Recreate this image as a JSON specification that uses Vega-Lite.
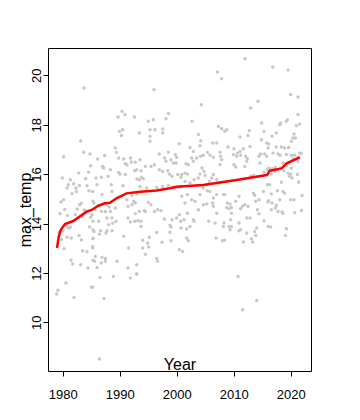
{
  "$schema": "https://vega.github.io/schema/vega-lite/v6.json",
  "width": 263,
  "height": 323,
  "autosize": {"type": "none"},
  "padding": {"left": 48, "top": 48, "right": 49, "bottom": 49},
  "background": "white",
  "config": {
    "view": {"stroke": "black", "strokeWidth": 1},
    "font": "Liberation Sans",
    "axis": {"grid": false, "domain": false, "tickColor": "black", "tickSize": 5, "labelColor": "black", "titleColor": "black", "labelFontSize": 13, "titleFontSize": 16, "titleFontWeight": "normal", "labelFont": "Liberation Sans", "titleFont": "Liberation Sans"}
  },
  "datasets": {
    "pts": [
      {"Year":1983.74,"max_temp":19.49},{"Year":1983.15,"max_temp":17.34},{"Year":1983.68,"max_temp":16.89},{"Year":1984.79,"max_temp":16.81},{"Year":1980.17,"max_temp":16.70},{"Year":1984.91,"max_temp":16.34},{"Year":1982.80,"max_temp":16.04},{"Year":1984.55,"max_temp":16.08},{"Year":1979.93,"max_temp":15.84},{"Year":1981.34,"max_temp":15.77},{"Year":1984.03,"max_temp":15.81},{"Year":1980.99,"max_temp":15.57},{"Year":1981.92,"max_temp":15.61},{"Year":1982.92,"max_temp":15.54},{"Year":1980.75,"max_temp":15.44},{"Year":1982.33,"max_temp":15.44},{"Year":1984.26,"max_temp":15.53},{"Year":1984.61,"max_temp":15.33},{"Year":1981.63,"max_temp":15.21},{"Year":1982.39,"max_temp":15.30},{"Year":1980.17,"max_temp":14.96},{"Year":1979.70,"max_temp":14.87},{"Year":1983.27,"max_temp":14.82},{"Year":1982.98,"max_temp":14.76},{"Year":1985.31,"max_temp":14.90},{"Year":1980.34,"max_temp":14.57},{"Year":1982.57,"max_temp":14.59},{"Year":1983.74,"max_temp":14.55},{"Year":1984.03,"max_temp":14.52},{"Year":1979.53,"max_temp":14.40},{"Year":1980.81,"max_temp":14.32},{"Year":1982.22,"max_temp":14.36},{"Year":1983.50,"max_temp":14.29},{"Year":1984.91,"max_temp":14.25},{"Year":1985.31,"max_temp":14.09},{"Year":1980.64,"max_temp":13.93},{"Year":1981.40,"max_temp":13.86},{"Year":1981.05,"max_temp":13.82},{"Year":1979.35,"max_temp":13.64},{"Year":1980.05,"max_temp":13.71},{"Year":1984.73,"max_temp":13.86},{"Year":1985.31,"max_temp":13.75},{"Year":1979.76,"max_temp":13.35},{"Year":1980.75,"max_temp":13.44},{"Year":1981.51,"max_temp":13.41},{"Year":1982.86,"max_temp":13.52},{"Year":1983.27,"max_temp":13.33},{"Year":1985.31,"max_temp":13.39},{"Year":1980.23,"max_temp":12.98},{"Year":1983.50,"max_temp":12.90},{"Year":1984.26,"max_temp":12.86},{"Year":1985.26,"max_temp":13.01},{"Year":1981.45,"max_temp":12.51},{"Year":1981.75,"max_temp":12.36},{"Year":1983.15,"max_temp":12.33},{"Year":1984.44,"max_temp":12.20},{"Year":1985.31,"max_temp":12.51},{"Year":1980.58,"max_temp":11.59},{"Year":1985.08,"max_temp":11.43},{"Year":1979.17,"max_temp":11.30},{"Year":1978.94,"max_temp":11.15},{"Year":1981.98,"max_temp":11.01},
      {"Year":1990.40,"max_temp":18.54},{"Year":1990.93,"max_temp":18.41},{"Year":1989.70,"max_temp":18.31},{"Year":1992.57,"max_temp":18.31},{"Year":1989.94,"max_temp":17.73},{"Year":1990.52,"max_temp":17.80},{"Year":1990.29,"max_temp":17.56},{"Year":1989.23,"max_temp":17.06},{"Year":1989.41,"max_temp":16.88},{"Year":1986.13,"max_temp":16.61},{"Year":1987.36,"max_temp":16.75},{"Year":1989.82,"max_temp":16.65},{"Year":1990.70,"max_temp":16.61},{"Year":1990.99,"max_temp":16.42},{"Year":1991.92,"max_temp":16.65},{"Year":1992.04,"max_temp":16.49},{"Year":1992.74,"max_temp":16.48},{"Year":1991.28,"max_temp":16.38},{"Year":1987.01,"max_temp":16.31},{"Year":1987.19,"max_temp":16.25},{"Year":1988.36,"max_temp":16.18},{"Year":1992.63,"max_temp":16.14},{"Year":1989.82,"max_temp":16.07},{"Year":1990.05,"max_temp":16.00},{"Year":1985.84,"max_temp":15.84},{"Year":1986.78,"max_temp":15.87},{"Year":1987.95,"max_temp":15.91},{"Year":1990.99,"max_temp":15.98},{"Year":1990.58,"max_temp":15.53},{"Year":1986.02,"max_temp":15.57},{"Year":1988.53,"max_temp":15.57},{"Year":1993.03,"max_temp":15.80},{"Year":1985.26,"max_temp":15.30},{"Year":1988.65,"max_temp":15.30},{"Year":1986.89,"max_temp":15.17},{"Year":1992.16,"max_temp":15.14},{"Year":1991.28,"max_temp":14.96},{"Year":1992.45,"max_temp":14.90},{"Year":1985.49,"max_temp":14.83},{"Year":1986.43,"max_temp":14.72},{"Year":1985.72,"max_temp":14.56},{"Year":1986.78,"max_temp":14.49},{"Year":1987.48,"max_temp":14.49},{"Year":1988.36,"max_temp":14.49},{"Year":1988.18,"max_temp":14.67},{"Year":1987.77,"max_temp":14.76},{"Year":1989.23,"max_temp":14.63},{"Year":1991.46,"max_temp":14.70},{"Year":1992.74,"max_temp":14.83},{"Year":1992.16,"max_temp":14.76},{"Year":1985.14,"max_temp":14.36},{"Year":1987.77,"max_temp":14.22},{"Year":1988.65,"max_temp":14.22},{"Year":1986.31,"max_temp":14.09},{"Year":1989.35,"max_temp":14.09},{"Year":1992.74,"max_temp":14.40},{"Year":1991.46,"max_temp":14.22},{"Year":1991.87,"max_temp":14.06},{"Year":1992.63,"max_temp":14.09},{"Year":1988.06,"max_temp":13.95},{"Year":1988.77,"max_temp":14.01},{"Year":1985.49,"max_temp":13.68},{"Year":1986.66,"max_temp":13.71},{"Year":1987.60,"max_temp":13.62},{"Year":1987.77,"max_temp":13.71},{"Year":1988.65,"max_temp":13.71},{"Year":1986.43,"max_temp":13.57},{"Year":1985.32,"max_temp":13.39},{"Year":1990.70,"max_temp":13.48},{"Year":1985.26,"max_temp":13.07},{"Year":1991.57,"max_temp":13.01},{"Year":1985.72,"max_temp":12.67},{"Year":1986.89,"max_temp":12.63},{"Year":1987.48,"max_temp":12.58},{"Year":1985.61,"max_temp":12.47},{"Year":1986.78,"max_temp":12.40},{"Year":1987.48,"max_temp":12.47},{"Year":1986.02,"max_temp":12.22},{"Year":1989.53,"max_temp":12.47},{"Year":1991.46,"max_temp":12.20},{"Year":1992.98,"max_temp":12.33},{"Year":1986.54,"max_temp":11.82},{"Year":1988.88,"max_temp":11.86},{"Year":1991.87,"max_temp":11.79},{"Year":1992.98,"max_temp":11.96},{"Year":1985.26,"max_temp":11.42},{"Year":1987.25,"max_temp":10.96},{"Year":1986.43,"max_temp":8.52},
      {"Year":1996.02,"max_temp":19.42},{"Year":1998.53,"max_temp":18.45},{"Year":1998.12,"max_temp":18.24},{"Year":1995.90,"max_temp":18.20},{"Year":1995.02,"max_temp":18.14},{"Year":1995.32,"max_temp":17.80},{"Year":1996.19,"max_temp":17.80},{"Year":1997.54,"max_temp":17.83},{"Year":1997.54,"max_temp":17.66},{"Year":1995.32,"max_temp":17.53},{"Year":1995.32,"max_temp":17.33},{"Year":1993.44,"max_temp":17.66},{"Year":2000.46,"max_temp":17.23},{"Year":1996.95,"max_temp":16.81},{"Year":1998.53,"max_temp":16.89},{"Year":1999.76,"max_temp":16.79},{"Year":1999.99,"max_temp":16.68},{"Year":1997.89,"max_temp":16.65},{"Year":1999.00,"max_temp":16.58},{"Year":1998.12,"max_temp":16.52},{"Year":1999.41,"max_temp":16.45},{"Year":1993.56,"max_temp":16.58},{"Year":1994.50,"max_temp":16.31},{"Year":1995.49,"max_temp":16.31},{"Year":1996.08,"max_temp":16.38},{"Year":1996.95,"max_temp":16.18},{"Year":1997.54,"max_temp":16.11},{"Year":1998.42,"max_temp":16.14},{"Year":1998.71,"max_temp":16.00},{"Year":1999.88,"max_temp":16.45},{"Year":1999.18,"max_temp":15.91},{"Year":2000.17,"max_temp":15.98},{"Year":2000.75,"max_temp":15.87},{"Year":1992.98,"max_temp":16.18},{"Year":1993.74,"max_temp":16.14},{"Year":1993.80,"max_temp":15.87},{"Year":1993.44,"max_temp":15.77},{"Year":1994.15,"max_temp":15.81},{"Year":1993.56,"max_temp":15.50},{"Year":1994.73,"max_temp":15.44},{"Year":1996.49,"max_temp":15.46},{"Year":1997.54,"max_temp":15.50},{"Year":1998.53,"max_temp":15.54},{"Year":1999.41,"max_temp":15.46},{"Year":1999.88,"max_temp":15.44},{"Year":2000.46,"max_temp":15.46},{"Year":1992.98,"max_temp":15.19},{"Year":1995.02,"max_temp":14.86},{"Year":1995.49,"max_temp":14.76},{"Year":1996.66,"max_temp":14.56},{"Year":1997.25,"max_temp":14.52},{"Year":1996.08,"max_temp":14.49},{"Year":1994.32,"max_temp":14.53},{"Year":1993.44,"max_temp":14.49},{"Year":1993.21,"max_temp":14.11},{"Year":1993.74,"max_temp":14.09},{"Year":1994.50,"max_temp":14.49},{"Year":1997.83,"max_temp":14.18},{"Year":1999.18,"max_temp":14.15},{"Year":1999.99,"max_temp":14.22},{"Year":2000.46,"max_temp":14.36},{"Year":1998.82,"max_temp":13.93},{"Year":1999.00,"max_temp":13.86},{"Year":1993.74,"max_temp":13.88},{"Year":2000.75,"max_temp":13.82},{"Year":1996.49,"max_temp":13.64},{"Year":1998.82,"max_temp":13.65},{"Year":1994.03,"max_temp":13.32},{"Year":1995.20,"max_temp":13.44},{"Year":1999.00,"max_temp":13.30},{"Year":1994.03,"max_temp":13.01},{"Year":1995.08,"max_temp":13.05},{"Year":1994.91,"max_temp":13.21},{"Year":1997.42,"max_temp":13.24},{"Year":1994.50,"max_temp":12.76},{"Year":1996.49,"max_temp":12.58},{"Year":1996.66,"max_temp":12.47},{"Year":1992.98,"max_temp":11.96},{"Year":2000.46,"max_temp":12.94},
      {"Year":2007.13,"max_temp":20.13},{"Year":2007.89,"max_temp":19.86},{"Year":2004.32,"max_temp":18.81},{"Year":2002.69,"max_temp":18.14},{"Year":2007.31,"max_temp":17.93},{"Year":2007.89,"max_temp":17.84},{"Year":2003.80,"max_temp":17.60},{"Year":2004.21,"max_temp":17.35},{"Year":2004.09,"max_temp":17.15},{"Year":2002.33,"max_temp":17.08},{"Year":2006.31,"max_temp":17.26},{"Year":2007.01,"max_temp":17.26},{"Year":2002.92,"max_temp":16.92},{"Year":2005.38,"max_temp":16.88},{"Year":2005.84,"max_temp":16.76},{"Year":2007.60,"max_temp":16.88},{"Year":2003.50,"max_temp":16.65},{"Year":2004.21,"max_temp":16.72},{"Year":2004.67,"max_temp":16.76},{"Year":2002.63,"max_temp":16.65},{"Year":2002.92,"max_temp":16.52},{"Year":2007.71,"max_temp":16.72},{"Year":2007.89,"max_temp":16.58},{"Year":2006.43,"max_temp":16.68},{"Year":2007.60,"max_temp":16.38},{"Year":2001.63,"max_temp":16.42},{"Year":2002.04,"max_temp":16.38},{"Year":2001.46,"max_temp":16.04},{"Year":2000.87,"max_temp":15.98},{"Year":2001.87,"max_temp":16.00},{"Year":2004.44,"max_temp":16.25},{"Year":2004.79,"max_temp":16.11},{"Year":2004.97,"max_temp":15.94},{"Year":2004.09,"max_temp":16.00},{"Year":2003.80,"max_temp":15.84},{"Year":2003.04,"max_temp":15.77},{"Year":2006.14,"max_temp":15.84},{"Year":2006.43,"max_temp":15.98},{"Year":2007.01,"max_temp":15.77},{"Year":2007.48,"max_temp":15.64},{"Year":2005.73,"max_temp":15.70},{"Year":2001.46,"max_temp":15.70},{"Year":2000.87,"max_temp":15.50},{"Year":2002.33,"max_temp":15.64},{"Year":2003.62,"max_temp":15.54},{"Year":2004.38,"max_temp":15.54},{"Year":2005.26,"max_temp":15.57},{"Year":2005.38,"max_temp":15.33},{"Year":2004.67,"max_temp":15.44},{"Year":2005.84,"max_temp":15.30},{"Year":2007.01,"max_temp":15.17},{"Year":2008.18,"max_temp":15.17},{"Year":2004.09,"max_temp":15.17},{"Year":2001.87,"max_temp":15.17},{"Year":2000.87,"max_temp":15.10},{"Year":2006.43,"max_temp":15.03},{"Year":2002.63,"max_temp":14.96},{"Year":2003.21,"max_temp":14.90},{"Year":2004.67,"max_temp":14.76},{"Year":2005.26,"max_temp":14.79},{"Year":2001.46,"max_temp":14.83},{"Year":2006.31,"max_temp":14.83},{"Year":2006.43,"max_temp":14.70},{"Year":2001.87,"max_temp":14.42},{"Year":2003.80,"max_temp":14.56},{"Year":2007.01,"max_temp":14.42},{"Year":2001.28,"max_temp":14.15},{"Year":2002.92,"max_temp":14.15},{"Year":2003.04,"max_temp":14.09},{"Year":2000.70,"max_temp":14.09},{"Year":2002.33,"max_temp":13.88},{"Year":2001.75,"max_temp":13.78},{"Year":2005.61,"max_temp":14.09},{"Year":2006.72,"max_temp":14.02},{"Year":2008.18,"max_temp":13.88},{"Year":2001.75,"max_temp":13.41},{"Year":2002.04,"max_temp":13.30},{"Year":2006.90,"max_temp":13.41},{"Year":2008.01,"max_temp":13.30},{"Year":2001.05,"max_temp":12.87},
      {"Year":2011.98,"max_temp":20.67},{"Year":2014.26,"max_temp":18.95},{"Year":2012.98,"max_temp":18.68},{"Year":2014.91,"max_temp":18.07},{"Year":2015.32,"max_temp":17.73},{"Year":2008.77,"max_temp":17.80},{"Year":2008.42,"max_temp":17.73},{"Year":2011.11,"max_temp":17.50},{"Year":2012.51,"max_temp":17.56},{"Year":2012.74,"max_temp":17.76},{"Year":2014.85,"max_temp":17.39},{"Year":2015.79,"max_temp":17.26},{"Year":2009.00,"max_temp":17.10},{"Year":2010.05,"max_temp":17.03},{"Year":2011.69,"max_temp":17.03},{"Year":2012.86,"max_temp":17.12},{"Year":2010.64,"max_temp":16.85},{"Year":2011.22,"max_temp":16.76},{"Year":2009.94,"max_temp":16.79},{"Year":2010.52,"max_temp":16.72},{"Year":2011.11,"max_temp":16.92},{"Year":2012.10,"max_temp":16.72},{"Year":2012.39,"max_temp":16.62},{"Year":2012.28,"max_temp":16.52},{"Year":2014.73,"max_temp":16.81},{"Year":2014.44,"max_temp":16.72},{"Year":2015.43,"max_temp":16.81},{"Year":2015.79,"max_temp":16.72},{"Year":2016.02,"max_temp":17.06},{"Year":2014.62,"max_temp":16.45},{"Year":2010.05,"max_temp":16.38},{"Year":2010.35,"max_temp":16.29},{"Year":2011.93,"max_temp":16.31},{"Year":2015.90,"max_temp":16.18},{"Year":2015.32,"max_temp":16.08},{"Year":2016.02,"max_temp":15.98},{"Year":2013.45,"max_temp":15.95},{"Year":2012.98,"max_temp":15.91},{"Year":2015.90,"max_temp":15.57},{"Year":2008.42,"max_temp":15.17},{"Year":2010.93,"max_temp":15.10},{"Year":2013.45,"max_temp":15.23},{"Year":2013.68,"max_temp":15.14},{"Year":2015.20,"max_temp":15.30},{"Year":2008.88,"max_temp":14.83},{"Year":2009.35,"max_temp":14.79},{"Year":2010.35,"max_temp":14.90},{"Year":2009.18,"max_temp":14.60},{"Year":2008.77,"max_temp":14.65},{"Year":2009.59,"max_temp":14.65},{"Year":2011.52,"max_temp":14.70},{"Year":2011.93,"max_temp":14.76},{"Year":2012.51,"max_temp":14.70},{"Year":2013.86,"max_temp":14.90},{"Year":2014.44,"max_temp":14.96},{"Year":2016.02,"max_temp":14.87},{"Year":2009.59,"max_temp":14.42},{"Year":2011.22,"max_temp":14.60},{"Year":2014.15,"max_temp":14.56},{"Year":2014.44,"max_temp":14.40},{"Year":2012.86,"max_temp":14.22},{"Year":2012.28,"max_temp":14.22},{"Year":2009.47,"max_temp":14.15},{"Year":2010.93,"max_temp":14.02},{"Year":2015.32,"max_temp":14.11},{"Year":2008.30,"max_temp":14.02},{"Year":2009.18,"max_temp":13.88},{"Year":2009.59,"max_temp":13.88},{"Year":2009.35,"max_temp":13.75},{"Year":2010.93,"max_temp":13.71},{"Year":2011.22,"max_temp":13.75},{"Year":2014.03,"max_temp":13.82},{"Year":2013.68,"max_temp":13.68},{"Year":2012.28,"max_temp":13.62},{"Year":2013.86,"max_temp":13.52},{"Year":2011.69,"max_temp":13.25},{"Year":2013.10,"max_temp":13.38},{"Year":2013.33,"max_temp":13.25},{"Year":2016.02,"max_temp":13.88},{"Year":2008.42,"max_temp":13.32},{"Year":2010.76,"max_temp":11.86},{"Year":2014.03,"max_temp":10.88},{"Year":2011.57,"max_temp":10.51},
      {"Year":2016.84,"max_temp":20.34},{"Year":2019.53,"max_temp":20.21},{"Year":2020.00,"max_temp":19.22},{"Year":2021.28,"max_temp":19.12},{"Year":2021.28,"max_temp":18.41},{"Year":2021.58,"max_temp":18.03},{"Year":2020.99,"max_temp":17.96},{"Year":2019.41,"max_temp":18.20},{"Year":2019.24,"max_temp":18.14},{"Year":2018.24,"max_temp":18.07},{"Year":2018.07,"max_temp":18.00},{"Year":2017.48,"max_temp":17.66},{"Year":2016.72,"max_temp":17.53},{"Year":2020.58,"max_temp":17.62},{"Year":2020.41,"max_temp":17.46},{"Year":2020.82,"max_temp":17.46},{"Year":2020.11,"max_temp":17.33},{"Year":2016.14,"max_temp":17.22},{"Year":2017.48,"max_temp":17.10},{"Year":2018.36,"max_temp":17.10},{"Year":2018.94,"max_temp":17.06},{"Year":2019.65,"max_temp":17.08},{"Year":2016.90,"max_temp":16.85},{"Year":2017.77,"max_temp":16.81},{"Year":2018.13,"max_temp":16.76},{"Year":2019.24,"max_temp":16.79},{"Year":2020.11,"max_temp":16.76},{"Year":2020.70,"max_temp":16.76},{"Year":2021.58,"max_temp":16.85},{"Year":2021.87,"max_temp":16.85},{"Year":2021.28,"max_temp":16.68},{"Year":2020.41,"max_temp":16.62},{"Year":2018.65,"max_temp":16.45},{"Year":2019.24,"max_temp":16.35},{"Year":2019.65,"max_temp":16.45},{"Year":2017.31,"max_temp":16.27},{"Year":2016.14,"max_temp":16.24},{"Year":2016.72,"max_temp":16.22},{"Year":2016.60,"max_temp":16.00},{"Year":2017.19,"max_temp":16.11},{"Year":2021.28,"max_temp":16.52},{"Year":2020.11,"max_temp":16.24},{"Year":2020.00,"max_temp":16.00},{"Year":2019.53,"max_temp":16.04},{"Year":2019.82,"max_temp":15.91},{"Year":2020.23,"max_temp":15.84},{"Year":2021.17,"max_temp":15.98},{"Year":2018.83,"max_temp":16.14},{"Year":2018.36,"max_temp":16.24},{"Year":2017.77,"max_temp":16.18},{"Year":2016.31,"max_temp":15.57},{"Year":2018.36,"max_temp":15.67},{"Year":2021.40,"max_temp":15.67},{"Year":2016.60,"max_temp":15.20},{"Year":2017.66,"max_temp":15.33},{"Year":2018.65,"max_temp":15.30},{"Year":2018.94,"max_temp":15.23},{"Year":2021.99,"max_temp":15.13},{"Year":2016.14,"max_temp":14.92},{"Year":2016.72,"max_temp":14.83},{"Year":2017.48,"max_temp":14.74},{"Year":2018.07,"max_temp":14.96},{"Year":2020.00,"max_temp":14.96},{"Year":2020.58,"max_temp":14.96},{"Year":2016.60,"max_temp":14.56},{"Year":2017.31,"max_temp":14.63},{"Year":2017.77,"max_temp":14.49},{"Year":2018.48,"max_temp":14.47},{"Year":2018.65,"max_temp":14.41},{"Year":2021.87,"max_temp":14.53},{"Year":2020.70,"max_temp":14.44},{"Year":2016.49,"max_temp":13.86},{"Year":2019.24,"max_temp":13.79},{"Year":2019.06,"max_temp":13.51}
    ],
    "fit": [
      {"Year":1979.0,"fit":13.01},{"Year":1979.3,"fit":13.45},{"Year":1979.65,"fit":13.74},{"Year":1980.4,"fit":13.98},{"Year":1981.86,"fit":14.10},{"Year":1984.2,"fit":14.48},{"Year":1985.1,"fit":14.55},{"Year":1986.25,"fit":14.72},{"Year":1987.4,"fit":14.82},{"Year":1988.3,"fit":14.84},{"Year":1989.5,"fit":15.03},{"Year":1990.05,"fit":15.09},{"Year":1991.2,"fit":15.22},{"Year":1993.55,"fit":15.29},{"Year":1996.5,"fit":15.34},{"Year":1998.8,"fit":15.43},{"Year":2000.0,"fit":15.49},{"Year":2004.67,"fit":15.56},{"Year":2010.5,"fit":15.76},{"Year":2015.8,"fit":15.96},{"Year":2016.35,"fit":16.14},{"Year":2018.4,"fit":16.23},{"Year":2019.3,"fit":16.44},{"Year":2021.6,"fit":16.68}
    ]
  },
  "layer": [
    {
      "data": {"name": "pts"},
      "mark": {"type": "circle", "color": "#c8c8c8", "opacity": 1, "size": 12},
      "encoding": {
        "x": {"field": "Year", "type": "quantitative", "scale": {"domain": [1977.42, 2023.56], "nice": false, "zero": false},
          "axis": {"values": [1980, 1990, 2000, 2010, 2020], "format": "d", "title": "Year", "titleY": -2, "titleBaseline": "alphabetic", "labelBaseline": "alphabetic", "labelPadding": 22, "labelFlush": false}},
        "y": {"field": "max_temp", "type": "quantitative", "scale": {"domain": [8.03, 21.105], "nice": false, "zero": false},
          "axis": {"values": [10, 12, 14, 16, 18, 20], "title": "max_temp", "titleAngle": 270, "titleX": -23, "titleBaseline": "middle", "labelAngle": 270, "labelAlign": "center", "labelBaseline": "alphabetic", "labelPadding": 2.5, "labelFlush": false}}
      }
    },
    {
      "data": {"name": "fit"},
      "mark": {"type": "line", "color": "#ff0000", "strokeWidth": 2.5},
      "encoding": {
        "x": {"field": "Year", "type": "quantitative"},
        "y": {"field": "fit", "type": "quantitative"}
      }
    }
  ]
}
